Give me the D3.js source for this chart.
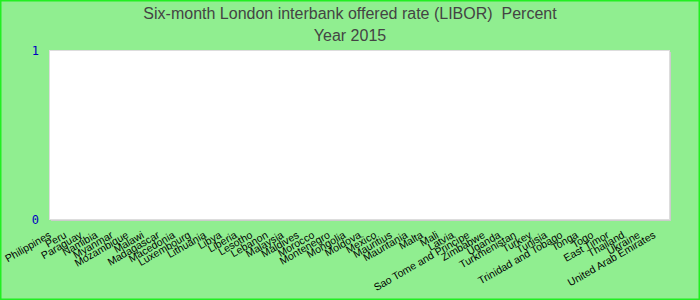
<!DOCTYPE html>
<html>
<head>
<meta charset="utf-8">
<script src="https://cdn.jsdelivr.net/npm/d3@7"></script>
<style>
    html, body { margin: 0; padding: 0; }
    body { width: 700px; height: 300px; overflow: hidden; }
</style>
</head>
<body>
<div id="chart"></div>
<script>
// Chart data
const titleLines = ['Six-month London interbank offered rate (LIBOR)  Percent', 'Year 2015'];
const countries = ['Philippines', 'Peru', 'Paraguay', 'Namibia', 'Myanmar', 'Mozambique', 'Malawi',
    'Madagascar', 'Macedonia', 'Luxembourg', 'Lithuania', 'Libya', 'Liberia', 'Lesotho', 'Lebanon',
    'Malaysia', 'Maldives', 'Morocco', 'Montenegro', 'Mongolia', 'Moldova', 'Mexico', 'Mauritius',
    'Mauritania', 'Malta', 'Mali', 'Latvia', 'Sao Tome and Principe', 'Zimbabwe', 'Uganda',
    'Turkmenistan', 'Turkey', 'Tunisia', 'Trinidad and Tobago', 'Tonga', 'Togo', 'East Timor',
    'Thailand', 'Ukraine', 'United Arab Emirates'];
// no values reported for 2015
const values = [0, 0, 0, 0, 0, 0, 0, 0, 0, 0, 0, 0, 0, 0, 0, 0, 0, 0, 0, 0,
    0, 0, 0, 0, 0, 0, 0, 0, 0, 0, 0, 0, 0, 0, 0, 0, 0, 0, 0, 0];
const yTicks = [0, 1];

const W = 700, H = 300;
const margin = { top: 51, right: 30, bottom: 80, left: 50 };
const width = W - margin.left - margin.right;
const height = H - margin.top - margin.bottom;

const svg = d3.select('#chart')
    .append('svg')
    .attr('width', W)
    .attr('height', H);

// Background and frame
svg.append('rect')
    .attr('x', 0.75).attr('y', 0.75)
    .attr('width', W - 1.5).attr('height', H - 1.5)
    .attr('fill', '#90ee90')
    .attr('stroke', '#22ee22')
    .attr('stroke-width', 1.5);

// Title
svg.append('g')
    .selectAll('text')
    .data(titleLines)
    .enter()
    .append('text')
    .attr('x', W / 2)
    .attr('y', (d, i) => 18.5 + i * 22.5)
    .attr('text-anchor', 'middle')
    .style('white-space', 'pre')
    .style('font-family', 'Liberation Sans, Arial, sans-serif')
    .style('font-size', '16px')
    .style('fill', '#444')
    .text(d => d);

const g = svg.append('g')
    .attr('transform', `translate(${margin.left},${margin.top})`);

// Plot area
g.append('rect')
    .attr('x', 1).attr('y', 1)
    .attr('width', width).attr('height', height)
    .attr('fill', '#ccc');
g.append('rect')
    .attr('x', -0.5).attr('y', -0.5)
    .attr('width', width).attr('height', height)
    .attr('fill', '#fff')
    .attr('stroke', '#ddd')
    .attr('stroke-width', 1);

// Scales
const xScale = d3.scaleBand()
    .domain(countries)
    .range([0, width]);

const yScale = d3.scaleLinear()
    .domain([0, 1])
    .range([height, 0]);

// Bars (empty for this year)
g.selectAll('.bar')
    .data(countries)
    .enter()
    .append('rect')
    .attr('class', 'bar')
    .attr('x', (d, i) => xScale(d) + 2)
    .attr('y', (d, i) => yScale(values[i]))
    .attr('width', xScale.bandwidth() - 4)
    .attr('height', (d, i) => height - yScale(values[i]))
    .attr('fill', '#3366cc');

// Y axis
const yAxis = d3.axisLeft(yScale).tickValues(yTicks).tickFormat(d3.format('d')).tickSize(0).tickPadding(11);
g.append('g')
    .attr('id', 'y-axis')
    .call(yAxis)
    .call(ax => ax.select('.domain').remove())
    .selectAll('text')
    .style('fill', '#0000c0')
    .style('font-family', 'DejaVu Sans Mono, monospace')
    .style('font-size', '12px');

// X axis
const xAxis = d3.axisBottom(xScale).tickSize(0);
g.append('g')
    .attr('id', 'x-axis')
    .attr('transform', `translate(0,${height})`)
    .call(xAxis)
    .call(ax => ax.select('.domain').remove())
    .selectAll('text')
    .attr('text-anchor', 'end')
    .attr('dy', 0)
    .attr('y', 0)
    .attr('transform', 'translate(-6,17) rotate(-30)')
    .style('fill', '#000')
    .style('font-family', 'Liberation Sans, Arial, sans-serif')
    .style('font-size', '10.5px');
</script>
</body>
</html>
